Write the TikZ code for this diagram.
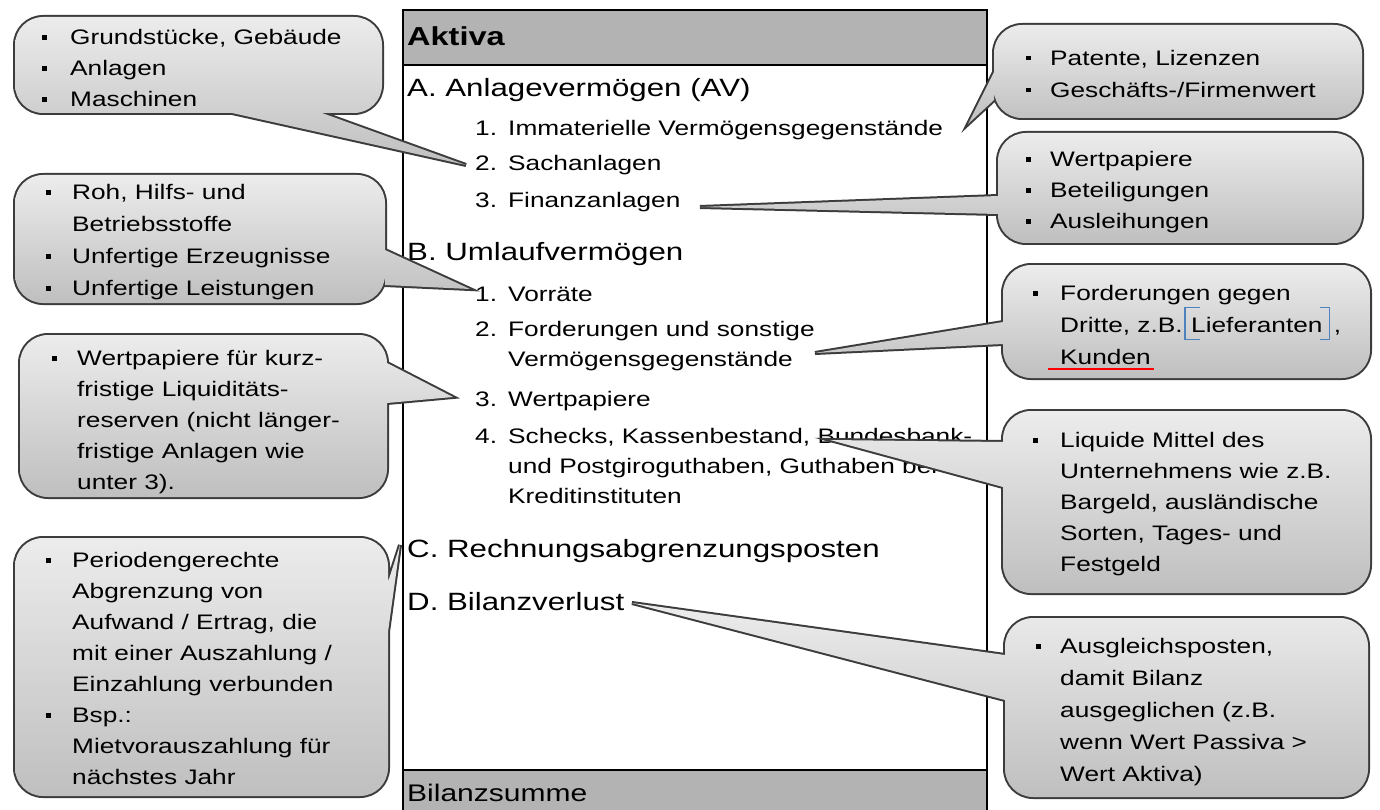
\documentclass[tikz,border=0pt]{standalone}
\usepackage{fontspec}
\setmainfont{Liberation Sans}[FakeStretch=1.25]
\definecolor{hdr}{HTML}{B3B3B3}
\definecolor{ctop}{HTML}{ECECEC}
\definecolor{cbot}{HTML}{BFBFBF}
\definecolor{cedge}{HTML}{3C3C3C}
\definecolor{spellblue}{HTML}{4F81BD}
\newcommand\cbul{\rule[5pt]{4.5pt}{4.5pt}}
% #1 L, #2 T, #3 R, #4 B, #5 #6 #7 wedge points (clockwise)
\newcommand\bubble[7]{%
  \path[draw=cedge, line width=4pt, rounded corners=28pt]
    ({(#1+#3)/2},#2) -- (#3,#2) -- (#3,#4) -- (#1,#4) -- (#1,#2) -- cycle
    [sharp corners] (#5) -- (#6) -- (#7) -- cycle;
  \path[top color=ctop, bottom color=cbot, rounded corners=28pt]
    ({(#1+#3)/2},#2) -- (#3,#2) -- (#3,#4) -- (#1,#4) -- (#1,#2) -- cycle
    [sharp corners] (#5) -- (#6) -- (#7) -- cycle;
}
\tikzset{
  hd/.style={anchor=base west, inner sep=0pt, font=\fontsize{25}{30}\selectfont},
  hdb/.style={anchor=base west, inner sep=0pt, font=\fontsize{26}{30}\selectfont\bfseries},
  itm/.style={anchor=base west, inner sep=0pt, font=\fontsize{21}{31}\selectfont},
  ctext/.style={anchor=north west, inner sep=0pt, align=left, font=\fontsize{21}{31}\selectfont},
  ctextw/.style={anchor=north west, inner sep=0pt, align=left, font=\fontsize{21}{32}\selectfont},
  spell/.style={draw=spellblue, line width=1.3pt},
}
\begin{document}
\begin{tikzpicture}[x=1pt,y=-1pt]
\useasboundingbox (0,0) rectangle (1380,810);
% ---------- balance sheet box ----------
\fill[white] (403,10) rectangle (987,814);
\fill[hdr] (403,10) rectangle (987,65);
\fill[hdr] (403,770) rectangle (987,814);
\draw[line width=2pt] (403,10) rectangle (987,814);
\draw[line width=2pt] (403,65) -- (987,65);
\draw[line width=2pt] (403,770) -- (987,770);

\node[hdb] (aktiva) at (407,46) {Aktiva};
\node[hd] (secA) at (407,97) {A. Anlagevermögen (AV)};
\node[itm] (nA1) at (475,136) {1.};
\node[itm] (iA1) at (508,136) {Immaterielle Vermögensgegenstände};
\node[itm] (nA2) at (475,171) {2.};
\node[itm] (iA2) at (508,171) {Sachanlagen};
\node[itm] (nA3) at (475,208) {3.};
\node[itm] (iA3) at (508,208) {Finanzanlagen};
\node[hd] (secB) at (407,261) {B. Umlaufvermögen};
\node[itm] (nB1) at (475,301) {1.};
\node[itm] (iB1) at (508,301) {Vorräte};
\node[itm] (nB2) at (475,336) {2.};
\node[itm] (iB2) at (508,336) {Forderungen und sonstige};
\node[itm] (iB2b) at (508,366) {Vermögensgegenstände};
\node[itm] (nB3) at (475,406) {3.};
\node[itm] (iB3) at (508,406) {Wertpapiere};
\node[itm] (nB4) at (475,443) {4.};
\node[itm] (iB4) at (508,443) {Schecks, Kassenbestand, Bundesbank-};
\node[itm] (iB4b) at (508,473) {und Postgiroguthaben, Guthaben bei};
\node[itm] (iB4c) at (508,503) {Kreditinstituten};
\node[hd] (secC) at (407,557) {C. Rechnungsabgrenzungsposten};
\node[hd] (secD) at (407,610) {D. Bilanzverlust};
\node[anchor=base west, inner sep=0pt, font=\fontsize{24}{28}\selectfont] (summe) at (407,801) {Bilanzsumme};

% ---------- pointer tips ----------
\coordinate (t1) at (466,165);
\coordinate (t2) at (968,124);
\coordinate (t3) at (700,207);
\coordinate (t4) at (470,289);
\coordinate (t5) at (453,397);
\coordinate (t6) at (815,353);
\coordinate (t7) at (830,440);
\coordinate (t8) at (400,545);
\coordinate (t9) at (632,603);

% ---------- callouts ----------
\bubble{15}{17}{382}{113}{232,113}{322,113}{t1}
\bubble{994}{25}{1362}{118}{994,72}{994,100}{t2}
\bubble{998}{133}{1362}{243}{998,196}{998,214}{t3}
\bubble{15}{175}{385}{303}{385,250}{t4}{385,285}
\bubble{20}{335}{387}{497}{387,363}{t5}{387,403}
\bubble{1003}{265}{1370}{378}{1003,322}{1003,344}{t6}
\bubble{1003}{411}{1370}{593}{1003,442}{1003,487}{t7}
\bubble{15}{538}{388}{796}{388,582}{t8}{388,632}
\bubble{1005}{618}{1368}{797}{1005,655}{1005,700}{t9}

% ---------- callout texts ----------
\node[ctext] (c1) at (42,22.8) {\begin{tabular}{@{}p{28pt}@{}l@{}}
\cbul & Grundstücke, Gebäude\\
\cbul & Anlagen\\
\cbul & Maschinen\end{tabular}};

\node[ctextw] (c2) at (1026,42.5) {\begin{tabular}{@{}p{24pt}@{}l@{}}
\cbul & Patente, Lizenzen\\
\cbul & Geschäfts-/Firmenwert\end{tabular}};

\node[ctext] (c3) at (1026,144.8) {\begin{tabular}{@{}p{24pt}@{}l@{}}
\cbul & Wertpapiere\\
\cbul & Beteiligungen\\
\cbul & Ausleihungen\end{tabular}};

\node[ctextw] (c4) at (46,177.3) {\begin{tabular}{@{}p{26pt}@{}l@{}}
\cbul & Roh, Hilfs- und\\
 & Betriebsstoffe\\
\cbul & Unfertige Erzeugnisse\\
\cbul & Unfertige Leistungen\end{tabular}};

\node[ctext] (c5) at (52,343.8) {\begin{tabular}{@{}p{25pt}@{}l@{}}
\cbul & Wertpapiere für kurz-\\
 & fristige Liquiditäts-\\
 & reserven (nicht länger-\\
 & fristige Anlagen wie\\
 & unter 3).\end{tabular}};

% Forderungen callout, line by line
\node[itm] (c6b) at (1033,300.5) {\cbul};
\node[itm] (c6l1) at (1060,300.5) {Forderungen gegen};
\node[itm] (c6l2) at (1060,332.5) {Dritte, z.B.};
\node[itm] (lief) at (1191,332.5) {Lieferanten};
\node[itm] (c6comma) at ([xshift=11pt]lief.base east) {,};
\node[itm] (kunden) at (1060,364) {Kunden};
\draw[spell] ([xshift=9pt,yshift=25pt]lief.base west) -- ([xshift=-6pt,yshift=25pt]lief.base west)
  -- ([xshift=-6pt,yshift=-7pt]lief.base west) -- ([xshift=9pt,yshift=-7pt]lief.base west);
\draw[spell] ([xshift=-3pt,yshift=25pt]lief.base east) -- ([xshift=7pt,yshift=25pt]lief.base east)
  -- ([xshift=7pt,yshift=-7pt]lief.base east) -- ([xshift=-3pt,yshift=-7pt]lief.base east);
\draw[red, line width=2.2pt] ([xshift=-12pt,yshift=-5pt]kunden.base west) -- ([xshift=3pt,yshift=-5pt]kunden.base east);

\node[ctext] (c7) at (1033,425.8) {\begin{tabular}{@{}p{27pt}@{}l@{}}
\cbul & Liquide Mittel des\\
 & Unternehmens wie z.B.\\
 & Bargeld, ausländische\\
 & Sorten, Tages- und\\
 & Festgeld\end{tabular}};

\node[ctext] (c8) at (46,545.8) {\begin{tabular}{@{}p{26pt}@{}l@{}}
\cbul & Periodengerechte\\
 & Abgrenzung von\\
 & Aufwand / Ertrag, die\\
 & mit einer Auszahlung /\\
 & Einzahlung verbunden\\
\cbul & Bsp.:\\
 & Mietvorauszahlung für\\
 & nächstes Jahr\end{tabular}};

\node[ctextw] (c9) at (1036,631.3) {\begin{tabular}{@{}p{24pt}@{}l@{}}
\cbul & Ausgleichsposten,\\
 & damit Bilanz\\
 & ausgeglichen (z.B.\\
 & wenn Wert Passiva >\\
 & Wert Aktiva)\end{tabular}};
\end{tikzpicture}
\end{document}
